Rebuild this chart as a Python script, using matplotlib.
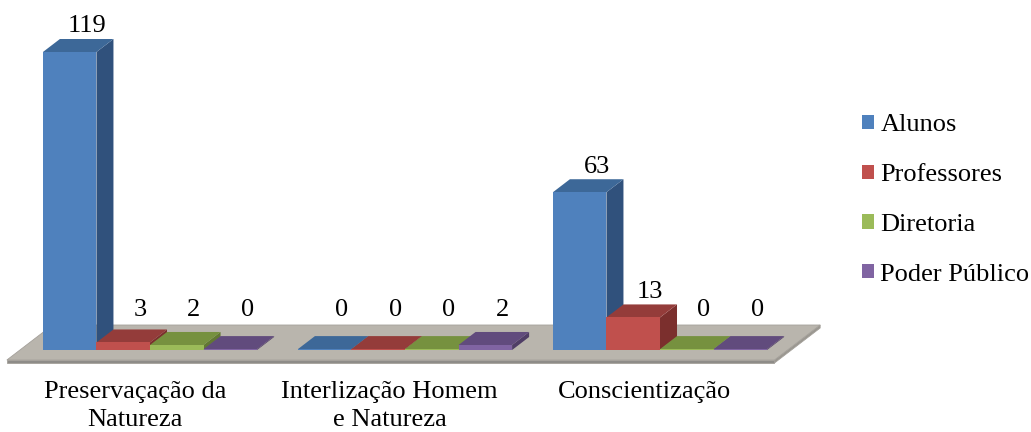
import matplotlib.pyplot as plt
from matplotlib.patches import Polygon, Patch

plt.rcParams['font.family'] = ['Liberation Serif', 'DejaVu Serif']

categories = ["Preservaçação da\nNatureza", "Interlização Homem\ne Natureza", "Conscientização"]
series_names = ["Alunos", "Professores", "Diretoria", "Poder Público"]
alunos = [119, 0, 63]
professores = [3, 0, 13]
diretoria = [2, 0, 0]
poder_publico = [0, 2, 0]

front_colors = ['#4F81BD', '#C0504D', '#9BBB59', '#8064A2']
top_colors = ['#3D6898', '#943C3A', '#76913F', '#614B7D']
side_colors = ['#30517C', '#7B2F2D', '#627833', '#4F3D66']

BAR_W = 0.21      # width of one bar (category units)
DX = 0.0667       # oblique shift of one depth unit, x
DY = 5.2          # oblique shift of one depth unit, y (value units)
FLOOR_D0, FLOOR_D1 = -0.77, 1.92
FLOOR_T = 1.2
FONT = 19


def pt(x, y, d):
    return (x + d * DX, y + d * DY)


def box(ax, x0, x1, y0, y1, d0, d1, front, top, side, z, ec='none', lw=0):
    faces = [
        ([pt(x1, y0, d0), pt(x1, y0, d1), pt(x1, y1, d1), pt(x1, y1, d0)], side),
        ([pt(x0, y1, d0), pt(x1, y1, d0), pt(x1, y1, d1), pt(x0, y1, d1)], top),
        ([pt(x0, y0, d0), pt(x1, y0, d0), pt(x1, y1, d0), pt(x0, y1, d0)], front),
    ]
    for verts, c in faces:
        ax.add_patch(Polygon(verts, closed=True, facecolor=c, edgecolor=ec,
                             lw=lw, zorder=z))


def main():
    fig = plt.figure(figsize=(10.31, 4.32), dpi=100)
    ax = fig.add_axes([0, 0, 1, 1])
    ax.axis('off')
    ax.set_xlim(-150 / 255, (1031 - 150) / 255)
    ax.set_ylim((350 - 432) / 2.504, 350 / 2.504)

    series = [alunos, professores, diretoria, poder_publico]
    n = len(series)

    # floor
    left = -n / 2 * BAR_W - 0.09
    right = (len(categories) - 1) + n / 2 * BAR_W + 0.08
    box(ax, left, right, -FLOOR_T, 0, FLOOR_D0, FLOOR_D1,
        '#8E8C88', '#B9B5AD', '#9A9790', 1, ec='#A4A09A', lw=0.6)

    z = 2
    for i, cat in enumerate(categories):
        for j, vals in enumerate(series):
            v = vals[i]
            x0 = i - n / 2 * BAR_W + j * BAR_W
            x1 = x0 + BAR_W
            h = max(v, 0.35)
            box(ax, x0, x1, 0, h, 0, 1, front_colors[j], top_colors[j],
                side_colors[j], z)
            z += 1
            lx, ly = pt((x0 + x1) / 2, v, 1)
            ax.text(lx, max(ly + 5.0, 15.8), str(v), ha='center', va='center',
                    fontsize=FONT, zorder=50)
        ax.text(i - 0.06, -12.2, cat, ha='center', va='top', fontsize=FONT,
                linespacing=1.38)

    handles = [Patch(facecolor=c, edgecolor='none') for c in front_colors]
    fig.legend(handles, series_names, loc='center left',
               bbox_to_anchor=(862 / 1031, 1 - 200 / 432), frameon=False,
               handlelength=0.45, handleheight=0.45, handletextpad=0.25,
               labelspacing=1.05, borderpad=0, borderaxespad=0,
               prop={'size': FONT})

    fig.savefig("out.png", dpi=100)


if __name__ == "__main__":
    main()
